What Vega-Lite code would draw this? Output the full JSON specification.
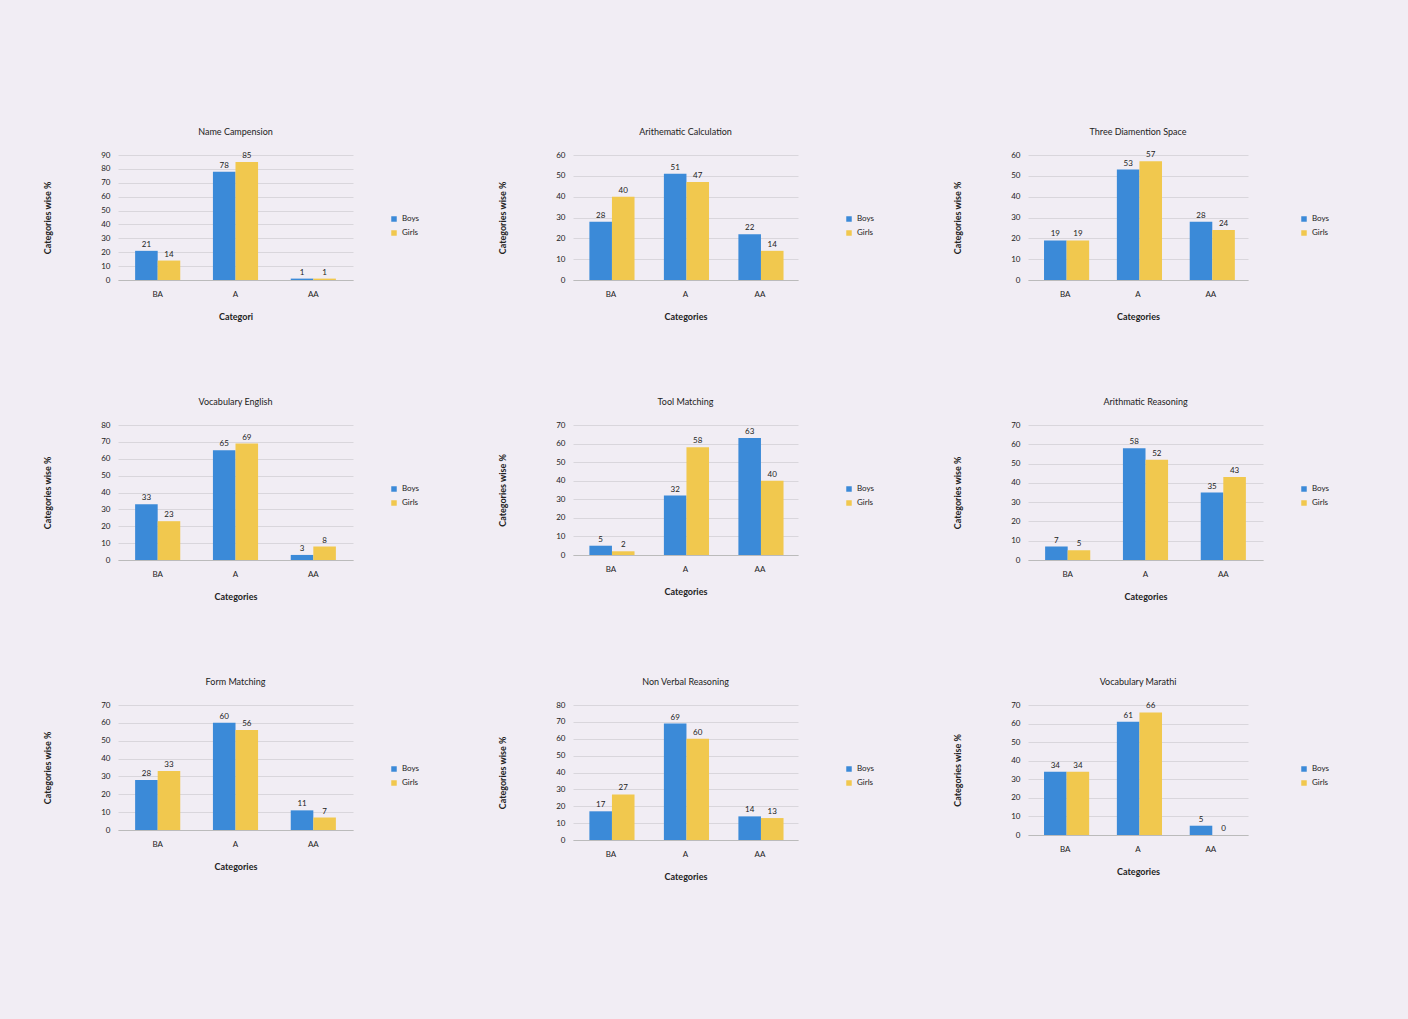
{
  "$schema": "https://vega.github.io/schema/vega-lite/v6.json",
  "background": "#f1edf4",
  "padding": {"left": 43, "top": 128, "right": 110, "bottom": 140},
  "columns": 3,
  "spacing": {"column": 78, "row": 77},
  "resolve": {"legend": {"color": "independent"}},
  "config": {
    "font": "Lato",
    "view": {"stroke": null},
    "title": {"fontSize": 9, "fontWeight": "normal", "color": "#222222", "offset": 14},
    "axis": {"labelFontSize": 8, "labelColor": "#222222", "titleFontSize": 9, "titleFontWeight": "bold", "titleColor": "#222222", "tickColor": "#bbbbbb", "domainColor": "#bbbbbb", "gridColor": "#d9d6dc"},
    "axisX": {"labelAngle": 0, "ticks": false, "labelPadding": 10, "titlePadding": 14, "grid": false},
    "axisY": {"titlePadding": 48, "ticks": false, "domain": false, "labelPadding": 8},
    "legend": {"orient": "none", "legendX": 272, "legendY": 60, "title": null, "labelFontSize": 8, "symbolType": "square", "symbolSize": 30, "rowPadding": 6, "labelColor": "#222222"},
    "text": {"fontSize": 8, "color": "#222222", "dy": -6},
    "bar": {"stroke": null}
  },
  "datasets": {
    "p1": [
      {"cat": "BA", "gender": "Boys", "value": 21}, {"cat": "BA", "gender": "Girls", "value": 14},
      {"cat": "A", "gender": "Boys", "value": 78}, {"cat": "A", "gender": "Girls", "value": 85},
      {"cat": "AA", "gender": "Boys", "value": 1}, {"cat": "AA", "gender": "Girls", "value": 1}
    ],
    "p2": [
      {"cat": "BA", "gender": "Boys", "value": 28}, {"cat": "BA", "gender": "Girls", "value": 40},
      {"cat": "A", "gender": "Boys", "value": 51}, {"cat": "A", "gender": "Girls", "value": 47},
      {"cat": "AA", "gender": "Boys", "value": 22}, {"cat": "AA", "gender": "Girls", "value": 14}
    ],
    "p3": [
      {"cat": "BA", "gender": "Boys", "value": 19}, {"cat": "BA", "gender": "Girls", "value": 19},
      {"cat": "A", "gender": "Boys", "value": 53}, {"cat": "A", "gender": "Girls", "value": 57},
      {"cat": "AA", "gender": "Boys", "value": 28}, {"cat": "AA", "gender": "Girls", "value": 24}
    ],
    "p4": [
      {"cat": "BA", "gender": "Boys", "value": 33}, {"cat": "BA", "gender": "Girls", "value": 23},
      {"cat": "A", "gender": "Boys", "value": 65}, {"cat": "A", "gender": "Girls", "value": 69},
      {"cat": "AA", "gender": "Boys", "value": 3}, {"cat": "AA", "gender": "Girls", "value": 8}
    ],
    "p5": [
      {"cat": "BA", "gender": "Boys", "value": 5}, {"cat": "BA", "gender": "Girls", "value": 2},
      {"cat": "A", "gender": "Boys", "value": 32}, {"cat": "A", "gender": "Girls", "value": 58},
      {"cat": "AA", "gender": "Boys", "value": 63}, {"cat": "AA", "gender": "Girls", "value": 40}
    ],
    "p6": [
      {"cat": "BA", "gender": "Boys", "value": 7}, {"cat": "BA", "gender": "Girls", "value": 5},
      {"cat": "A", "gender": "Boys", "value": 58}, {"cat": "A", "gender": "Girls", "value": 52},
      {"cat": "AA", "gender": "Boys", "value": 35}, {"cat": "AA", "gender": "Girls", "value": 43}
    ],
    "p7": [
      {"cat": "BA", "gender": "Boys", "value": 28}, {"cat": "BA", "gender": "Girls", "value": 33},
      {"cat": "A", "gender": "Boys", "value": 60}, {"cat": "A", "gender": "Girls", "value": 56},
      {"cat": "AA", "gender": "Boys", "value": 11}, {"cat": "AA", "gender": "Girls", "value": 7}
    ],
    "p8": [
      {"cat": "BA", "gender": "Boys", "value": 17}, {"cat": "BA", "gender": "Girls", "value": 27},
      {"cat": "A", "gender": "Boys", "value": 69}, {"cat": "A", "gender": "Girls", "value": 60},
      {"cat": "AA", "gender": "Boys", "value": 14}, {"cat": "AA", "gender": "Girls", "value": 13}
    ],
    "p9": [
      {"cat": "BA", "gender": "Boys", "value": 34}, {"cat": "BA", "gender": "Girls", "value": 34},
      {"cat": "A", "gender": "Boys", "value": 61}, {"cat": "A", "gender": "Girls", "value": 66},
      {"cat": "AA", "gender": "Boys", "value": 5}, {"cat": "AA", "gender": "Girls", "value": 0}
    ]
  },
  "concat": [
    {
      "title": "Name Campension", "width": 235, "height": 125, "data": {"name": "p1"},
      "encoding": {
        "x": {"field": "cat", "type": "nominal", "sort": ["BA", "A", "AA"], "title": "Categori", "scale": {"paddingInner": 0.42, "paddingOuter": 0.22}},
        "xOffset": {"field": "gender", "sort": ["Boys", "Girls"]},
        "y": {"field": "value", "type": "quantitative", "title": "Categories wise %", "scale": {"domain": [0, 90]}, "axis": {"values": [0, 10, 20, 30, 40, 50, 60, 70, 80, 90]}}
      },
      "layer": [
        {"mark": "bar", "encoding": {"color": {"field": "gender", "type": "nominal", "scale": {"domain": ["Boys", "Girls"], "range": ["#3b8ad8", "#f1c84e"]}}}},
        {"mark": "text", "encoding": {"text": {"field": "value", "type": "quantitative"}}}
      ]
    },
    {
      "title": "Arithematic Calculation", "width": 225, "height": 125, "data": {"name": "p2"},
      "encoding": {
        "x": {"field": "cat", "type": "nominal", "sort": ["BA", "A", "AA"], "title": "Categories", "scale": {"paddingInner": 0.42, "paddingOuter": 0.22}},
        "xOffset": {"field": "gender", "sort": ["Boys", "Girls"]},
        "y": {"field": "value", "type": "quantitative", "title": "Categories wise %", "scale": {"domain": [0, 60]}, "axis": {"values": [0, 10, 20, 30, 40, 50, 60]}}
      },
      "layer": [
        {"mark": "bar", "encoding": {"color": {"field": "gender", "type": "nominal", "scale": {"domain": ["Boys", "Girls"], "range": ["#3b8ad8", "#f1c84e"]}}}},
        {"mark": "text", "encoding": {"text": {"field": "value", "type": "quantitative"}}}
      ]
    },
    {
      "title": "Three Diamention Space", "width": 220, "height": 125, "data": {"name": "p3"},
      "encoding": {
        "x": {"field": "cat", "type": "nominal", "sort": ["BA", "A", "AA"], "title": "Categories", "scale": {"paddingInner": 0.42, "paddingOuter": 0.22}},
        "xOffset": {"field": "gender", "sort": ["Boys", "Girls"]},
        "y": {"field": "value", "type": "quantitative", "title": "Categories wise %", "scale": {"domain": [0, 60]}, "axis": {"values": [0, 10, 20, 30, 40, 50, 60]}}
      },
      "layer": [
        {"mark": "bar", "encoding": {"color": {"field": "gender", "type": "nominal", "scale": {"domain": ["Boys", "Girls"], "range": ["#3b8ad8", "#f1c84e"]}}}},
        {"mark": "text", "encoding": {"text": {"field": "value", "type": "quantitative"}}}
      ]
    },
    {
      "title": "Vocabulary English", "width": 235, "height": 135, "data": {"name": "p4"},
      "encoding": {
        "x": {"field": "cat", "type": "nominal", "sort": ["BA", "A", "AA"], "title": "Categories", "scale": {"paddingInner": 0.42, "paddingOuter": 0.22}},
        "xOffset": {"field": "gender", "sort": ["Boys", "Girls"]},
        "y": {"field": "value", "type": "quantitative", "title": "Categories wise %", "scale": {"domain": [0, 80]}, "axis": {"values": [0, 10, 20, 30, 40, 50, 60, 70, 80]}}
      },
      "layer": [
        {"mark": "bar", "encoding": {"color": {"field": "gender", "type": "nominal", "scale": {"domain": ["Boys", "Girls"], "range": ["#3b8ad8", "#f1c84e"]}}}},
        {"mark": "text", "encoding": {"text": {"field": "value", "type": "quantitative"}}}
      ]
    },
    {
      "title": "Tool Matching", "width": 225, "height": 130, "data": {"name": "p5"},
      "encoding": {
        "x": {"field": "cat", "type": "nominal", "sort": ["BA", "A", "AA"], "title": "Categories", "scale": {"paddingInner": 0.42, "paddingOuter": 0.22}},
        "xOffset": {"field": "gender", "sort": ["Boys", "Girls"]},
        "y": {"field": "value", "type": "quantitative", "title": "Categories wise %", "scale": {"domain": [0, 70]}, "axis": {"values": [0, 10, 20, 30, 40, 50, 60, 70]}}
      },
      "layer": [
        {"mark": "bar", "encoding": {"color": {"field": "gender", "type": "nominal", "scale": {"domain": ["Boys", "Girls"], "range": ["#3b8ad8", "#f1c84e"]}}}},
        {"mark": "text", "encoding": {"text": {"field": "value", "type": "quantitative"}}}
      ]
    },
    {
      "title": "Arithmatic Reasoning", "width": 235, "height": 135, "data": {"name": "p6"},
      "encoding": {
        "x": {"field": "cat", "type": "nominal", "sort": ["BA", "A", "AA"], "title": "Categories", "scale": {"paddingInner": 0.42, "paddingOuter": 0.22}},
        "xOffset": {"field": "gender", "sort": ["Boys", "Girls"]},
        "y": {"field": "value", "type": "quantitative", "title": "Categories wise %", "scale": {"domain": [0, 70]}, "axis": {"values": [0, 10, 20, 30, 40, 50, 60, 70]}}
      },
      "layer": [
        {"mark": "bar", "encoding": {"color": {"field": "gender", "type": "nominal", "scale": {"domain": ["Boys", "Girls"], "range": ["#3b8ad8", "#f1c84e"]}}}},
        {"mark": "text", "encoding": {"text": {"field": "value", "type": "quantitative"}}}
      ]
    },
    {
      "title": "Form Matching", "width": 235, "height": 125, "data": {"name": "p7"},
      "encoding": {
        "x": {"field": "cat", "type": "nominal", "sort": ["BA", "A", "AA"], "title": "Categories", "scale": {"paddingInner": 0.42, "paddingOuter": 0.22}},
        "xOffset": {"field": "gender", "sort": ["Boys", "Girls"]},
        "y": {"field": "value", "type": "quantitative", "title": "Categories wise %", "scale": {"domain": [0, 70]}, "axis": {"values": [0, 10, 20, 30, 40, 50, 60, 70]}}
      },
      "layer": [
        {"mark": "bar", "encoding": {"color": {"field": "gender", "type": "nominal", "scale": {"domain": ["Boys", "Girls"], "range": ["#3b8ad8", "#f1c84e"]}}}},
        {"mark": "text", "encoding": {"text": {"field": "value", "type": "quantitative"}}}
      ]
    },
    {
      "title": "Non Verbal Reasoning", "width": 225, "height": 135, "data": {"name": "p8"},
      "encoding": {
        "x": {"field": "cat", "type": "nominal", "sort": ["BA", "A", "AA"], "title": "Categories", "scale": {"paddingInner": 0.42, "paddingOuter": 0.22}},
        "xOffset": {"field": "gender", "sort": ["Boys", "Girls"]},
        "y": {"field": "value", "type": "quantitative", "title": "Categories wise %", "scale": {"domain": [0, 80]}, "axis": {"values": [0, 10, 20, 30, 40, 50, 60, 70, 80]}}
      },
      "layer": [
        {"mark": "bar", "encoding": {"color": {"field": "gender", "type": "nominal", "scale": {"domain": ["Boys", "Girls"], "range": ["#3b8ad8", "#f1c84e"]}}}},
        {"mark": "text", "encoding": {"text": {"field": "value", "type": "quantitative"}}}
      ]
    },
    {
      "title": "Vocabulary Marathi", "width": 220, "height": 130, "data": {"name": "p9"},
      "encoding": {
        "x": {"field": "cat", "type": "nominal", "sort": ["BA", "A", "AA"], "title": "Categories", "scale": {"paddingInner": 0.42, "paddingOuter": 0.22}},
        "xOffset": {"field": "gender", "sort": ["Boys", "Girls"]},
        "y": {"field": "value", "type": "quantitative", "title": "Categories wise %", "scale": {"domain": [0, 70]}, "axis": {"values": [0, 10, 20, 30, 40, 50, 60, 70]}}
      },
      "layer": [
        {"mark": "bar", "encoding": {"color": {"field": "gender", "type": "nominal", "scale": {"domain": ["Boys", "Girls"], "range": ["#3b8ad8", "#f1c84e"]}}}},
        {"mark": "text", "encoding": {"text": {"field": "value", "type": "quantitative"}}}
      ]
    }
  ]
}
